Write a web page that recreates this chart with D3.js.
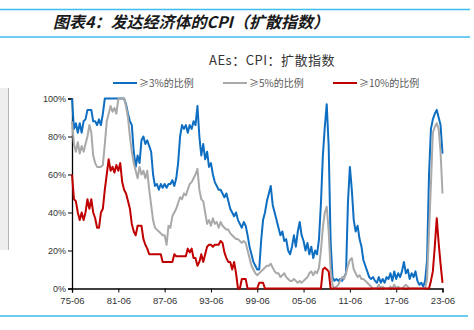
<!DOCTYPE html>
<html><head><meta charset="utf-8">
<script src="https://cdn.jsdelivr.net/npm/d3@7"></script>
<style>html,body{margin:0;padding:0;background:#fff;}svg{display:block;}</style>
</head><body>
<svg id="chart" width="474" height="330"></svg>
<script>
// ---- data (quarterly from 1975-06 to 2023-06) ----
const startMonth = "1975-06";
const stepMonths = 3;
const seriesNames = ["≥3%的比例", "≥5%的比例", "≥10%的比例"];
const tickLabels = ["75-06","81-06","87-06","93-06","99-06","05-06","11-06","17-06","23-06"];
const yTicks = [0, 20, 40, 60, 80, 100];

const share3 = [
 100,84,87,82,  87,82,88,89,  94,94,94,88,  88,86,89,86,  92,100,100,100,
 100,100,100,100, 100,100,100,100, 97,92,88,86, 72,64,70,66, 78,80,76,78,
 75,72,60,54,  55,52,55,53,  55,53,55,55,  57,54,58,66,  80,86,84,86,
 82,86,84,88,  86,96,80,70,  76,68,72,64,  66,60,56,54,  52,52,50,48,
 50,46,42,40,  38,40,36,34,  32,35,33,28,  22,18,14,12,  10,10,25,36,
 40,46,50,54,  44,40,36,32,  28,30,25,26,  20,18,22,28,  22,30,35,28,
 25,20,24,18,  22,16,20,18,  26,45,70,85,  97,75,25,6,   4,5,4,5,
 4,6,8,45,     64,52,36,30,  33,26,22,15,  12,9,6,5,     6,4,3,6,
 3,5,3,6,      5,8,4,9,      5,8,6,9,      14,8,10,5,    8,6,9,4,
 2,3,1,4,      15,60,84,89,  92,94,90,86,  71
];
const share5 = [
 88,76,72,77,  71,75,72,76,  80,86,82,70,  66,64,64,64,  65,76,88,92,
 96,93,95,92,  100,100,100,100, 96,90,80,72, 66,62,58,64, 60,62,58,62,
 52,44,36,32,  31,30,29,28,  28,23,33,32,  38,40,42,45,  48,47,50,49,
 52,55,56,58,  60,63,52,47,  46,40,34,36,  33,37,34,35,  32,35,33,32,
 31,31,29,28,  27,26,26,25,  24,25,24,20,  16,12,10,8,   7,8,9,10,
 11,12,12,13,  11,9,8,8,     6,7,8,6,      5,4,4,5,      4,3,4,3,
 4,5,6,8,      9,7,9,8,      11,20,32,40,  43,30,10,2,   0,1,2,4,
 6,5,8,12,     15,16,10,8,   6,7,5,5,      4,3,2,1,      0,0,0,2,
 0,1,0,0,      0,1,0,2,      0,1,0,0,      1,2,1,0,      0,0,0,0,
 0,0,0,0,      5,30,55,82,   85,87,84,72,  50
];
const share10 = [
 60,47,46,40,  36,40,36,40,  47,42,47,40,  37,32,32,40,  42,52,60,68,
 62,64,61,65,  62,66,56,52,  50,46,42,34,  30,28,33,33,  33,26,23,21,
 18,18,18,18,  18,18,18,14,  14,14,14,14,  14,18,17,17,  17,17,17,17,
 21,19,21,16,  16,12,14,18,  14,18,22,23,  23,22,23,23,  23,25,24,19,
 16,14,14,10,  14,8,0,0,     5,5,5,0,      0,0,0,0,      0,3,3,3,
 0,0,0,0,      0,0,0,0,      0,0,0,0,      0,0,0,0,      0,0,0,0,
 0,0,0,0,      0,0,0,0,      0,0,10,11,    10,9,0,0,     0,0,0,0,
 0,0,0,0,      0,0,0,0,      0,0,0,0,      0,0,0,0,      0,0,0,0,
 0,0,0,0,      0,0,0,0,      0,0,0,0,      0,0,0,0,      0,0,0,0,
 0,0,0,0,      0,0,4,9,      22,37,24,13,  3
];
const seriesValues = [share3, share5, share10];
const seriesColors = ["#0E6EC1", "#A9A9A9", "#C00000"];

// ---- layout ----
const svg = d3.select("#chart");
const parseYM = d3.timeParse("%y-%m");
const start = d3.timeParse("%Y-%m")(startMonth);
const dates = share3.map((_, i) => d3.timeMonth.offset(start, i * stepMonths));

const x = d3.scaleTime()
  .domain([parseYM(tickLabels[0]), parseYM(tickLabels[tickLabels.length - 1])])
  .range([72, 442.5]);
const y = d3.scaleLinear().domain([0, 100]).range([288.5, 98.5]);

// page decorations
svg.append("line").attr("x1", 0).attr("x2", 470).attr("y1", 9.5).attr("y2", 9.5)
  .attr("stroke", "#3DBDEB").attr("stroke-width", 1.5);
svg.append("line").attr("x1", 0).attr("x2", 470).attr("y1", 37).attr("y2", 37)
  .attr("stroke", "#3DBDEB").attr("stroke-width", 1.5);
svg.append("line").attr("x1", 0).attr("x2", 468).attr("y1", 316).attr("y2", 316)
  .attr("stroke", "#3DBDEB").attr("stroke-width", 1.5);
svg.append("rect").attr("x", 0).attr("y", 88).attr("width", 8).attr("height", 162)
  .attr("fill", "#eeeeee");
svg.append("line").attr("x1", 8.5).attr("x2", 8.5).attr("y1", 88).attr("y2", 250)
  .attr("stroke", "#b5b5b5").attr("stroke-width", 1);

svg.append("text").attr("x", 53).attr("y", 28)
  .attr("font-family", "'Noto Sans CJK SC', sans-serif")
  .attr("font-size", 16).attr("font-weight", "bold").attr("font-style", "italic")
  .attr("fill", "#1a1a1a")
  .text("图表4：发达经济体的CPI（扩散指数）");

// chart title
svg.append("text").attr("x", 272).attr("y", 65).attr("text-anchor", "middle")
  .attr("font-family", "'Noto Sans CJK SC', sans-serif")
  .attr("font-size", 13).attr("fill", "#333").attr("letter-spacing", "0.5")
  .text("AEs：CPI：扩散指数");

// legend
const legendX = [113, 223, 333];
seriesNames.forEach((name, i) => {
  const g = svg.append("g").attr("transform", `translate(${legendX[i]},83)`);
  g.append("line").attr("x1", 0).attr("x2", 24).attr("y1", 0).attr("y2", 0)
    .attr("stroke", seriesColors[i]).attr("stroke-width", 2);
  g.append("text").attr("x", 26).attr("y", 3.5)
    .attr("font-family", "'Noto Sans CJK SC', sans-serif")
    .attr("font-size", 10).attr("fill", "#595959").text(name);
});

// axes
const yAxis = d3.axisLeft(y).tickValues(yTicks).tickSize(4).tickFormat(d => d + "%");
const gy = svg.append("g").attr("transform", "translate(72,0)").call(yAxis);
gy.select(".domain").attr("stroke", "#000").attr("stroke-width", 1.3);
gy.selectAll(".tick line").attr("stroke", "#000");
gy.selectAll("text").attr("font-family", "'Liberation Sans', Arial, sans-serif")
  .attr("font-size", 9).attr("fill", "#333").attr("x", -6);

const xAxis = d3.axisBottom(x).tickValues(tickLabels.map(parseYM)).tickSize(4)
  .tickFormat((d, i) => tickLabels[i]);
const gx = svg.append("g").attr("transform", "translate(0,288.5)").call(xAxis);
gx.select(".domain").attr("stroke", "#000").attr("stroke-width", 1.3);
gx.selectAll(".tick line").attr("stroke", "#000");
gx.selectAll("text").attr("font-family", "'Liberation Sans', Arial, sans-serif")
  .attr("font-size", 9.5).attr("fill", "#333").attr("dy", "0.9em");

// lines
const line = d3.line().x((d, i) => x(dates[i])).y(d => y(d));
seriesValues.forEach((vals, i) => {
  svg.append("path").datum(vals).attr("d", line)
    .attr("fill", "none").attr("stroke", seriesColors[i])
    .attr("stroke-width", 2).attr("stroke-linejoin", "round");
});
</script>
</body></html>
